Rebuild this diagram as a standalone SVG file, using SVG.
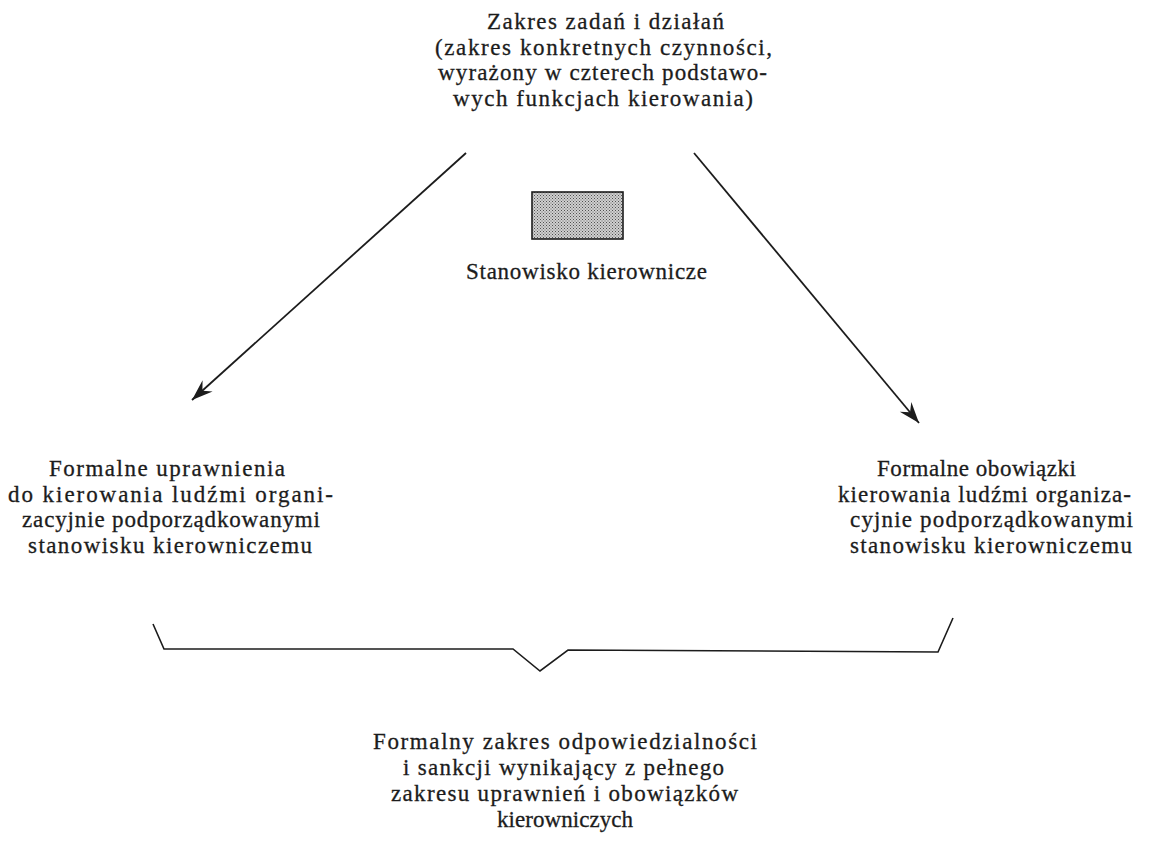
<svg xmlns="http://www.w3.org/2000/svg" width="1152" height="847" viewBox="0 0 1152 847">
  <defs>
    <style>
      .lbl { font-family: "Liberation Serif", "Times New Roman", serif; font-size: 23px; fill: #1c1c1c; stroke: #1c1c1c; stroke-width: 0.3; }
      .edge { fill: none; stroke: #1c1c1c; stroke-width: 1.8; }
      .brace { fill: none; stroke: #1c1c1c; stroke-width: 1.6; stroke-linejoin: miter; }
    </style>
    <!-- fine stipple for the post box -->
    <pattern id="stipple" width="3" height="3" patternUnits="userSpaceOnUse">
      <rect width="3" height="3" fill="#d0d0d0"/>
      <rect x="0" y="0" width="1" height="1" fill="#505050"/>
      <rect x="1.5" y="1.5" width="1" height="1" fill="#606060"/>
    </pattern>
    <!-- barbed arrowhead -->
    <marker id="barb" viewBox="-22 -9 24 18" refX="0" refY="0" markerWidth="24" markerHeight="18" markerUnits="userSpaceOnUse" orient="auto">
      <path d="M0,0 L-21,-7.5 L-14,0 L-21,7.5 Z" fill="#1c1c1c"/>
    </marker>
  </defs>

  <rect width="1152" height="847" fill="#ffffff"/>

  <!-- task scope -->
  <g id="node-zakres">
    <text class="lbl" x="487" y="29" textLength="237" lengthAdjust="spacing">Zakres zadań i działań</text>
    <text class="lbl" x="435" y="54.5" textLength="337" lengthAdjust="spacing">(zakres konkretnych czynności,</text>
    <text class="lbl" x="438" y="80" textLength="329" lengthAdjust="spacing">wyrażony w czterech podstawo-</text>
    <text class="lbl" x="453" y="105.5" textLength="300" lengthAdjust="spacing">wych funkcjach kierowania)</text>
  </g>

  <!-- managerial post -->
  <g id="node-stanowisko">
    <rect x="532" y="192" width="91" height="47" fill="url(#stipple)" stroke="#1c1c1c" stroke-width="1.6"/>
    <text class="lbl" x="466" y="279" textLength="241" lengthAdjust="spacing">Stanowisko kierownicze</text>
  </g>

  <!-- formal rights -->
  <g id="node-uprawnienia">
    <text class="lbl" x="49" y="476" textLength="236" lengthAdjust="spacing">Formalne uprawnienia</text>
    <text class="lbl" x="8" y="501.5" textLength="325" lengthAdjust="spacing">do kierowania ludźmi organi-</text>
    <text class="lbl" x="22" y="527" textLength="298" lengthAdjust="spacing">zacyjnie podporządkowanymi</text>
    <text class="lbl" x="28" y="552.5" textLength="284" lengthAdjust="spacing">stanowisku kierowniczemu</text>
  </g>

  <!-- formal duties -->
  <g id="node-obowiazki">
    <text class="lbl" x="877" y="476" textLength="199" lengthAdjust="spacing">Formalne obowiązki</text>
    <text class="lbl" x="838" y="501.5" textLength="293" lengthAdjust="spacing">kierowania ludźmi organiza-</text>
    <text class="lbl" x="850" y="527" textLength="283" lengthAdjust="spacing">cyjnie podporządkowanymi</text>
    <text class="lbl" x="850" y="552.5" textLength="282" lengthAdjust="spacing">stanowisku kierowniczemu</text>
  </g>

  <!-- resulting responsibility -->
  <g id="node-odpowiedzialnosc">
    <text class="lbl" x="373" y="749" textLength="384" lengthAdjust="spacing">Formalny zakres odpowiedzialności</text>
    <text class="lbl" x="403" y="775" textLength="321" lengthAdjust="spacing">i sankcji wynikający z pełnego</text>
    <text class="lbl" x="391" y="801" textLength="347" lengthAdjust="spacing">zakresu uprawnień i obowiązków</text>
    <text class="lbl" x="497" y="827" textLength="136" lengthAdjust="spacing">kierowniczych</text>
  </g>

  <!-- connectors -->
  <g id="connectors">
    <line class="edge" x1="466" y1="153" x2="192" y2="400" marker-end="url(#barb)"/>
    <line class="edge" x1="694" y1="153" x2="919" y2="423" marker-end="url(#barb)"/>
    <path class="brace" d="M153,624 L164,649 L513,649 L540,671 L568,650 L938,652 L953,618"/>
  </g>
</svg>
